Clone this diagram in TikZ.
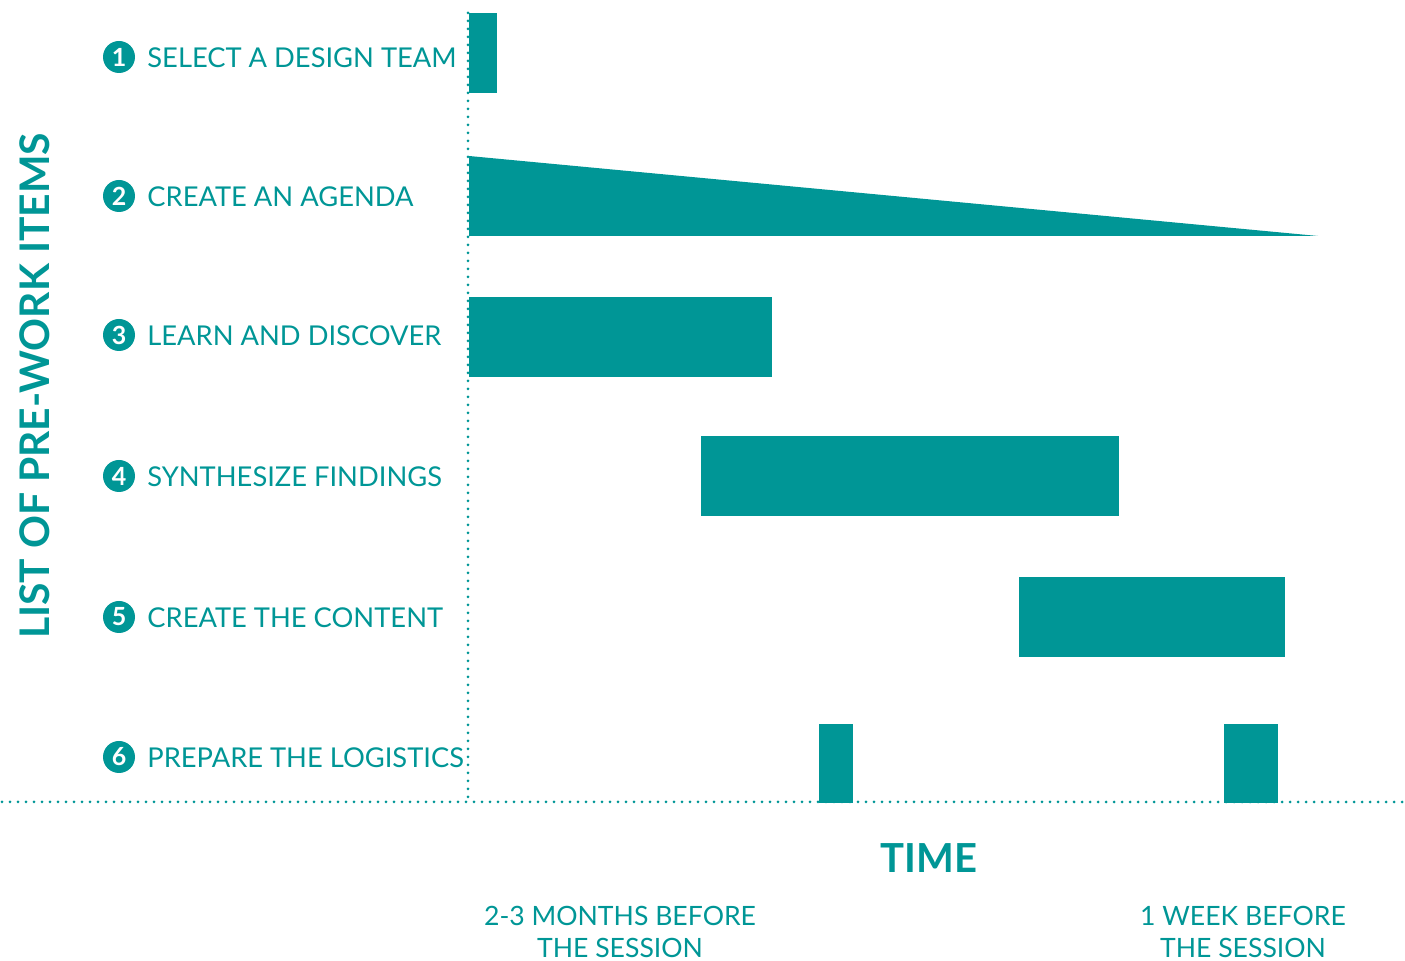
\documentclass[tikz,border=0pt]{standalone}
\usepackage{fontspec}
\setmainfont{Lato}
\definecolor{teal1}{RGB}{0,150,150}
\begin{document}
\begin{tikzpicture}[x=0.5pt,y=-0.5pt,
  bar/.style={fill=teal1,draw=none},
  dotline/.style={draw=teal1,line width=1.5pt,line cap=round,dash pattern=on 0pt off 4pt},
  num/.style={circle,fill=teal1,text=white,inner sep=0pt,minimum size=16pt,font=\fontsize{12.5}{12.5}\selectfont\bfseries},
  lab/.style={anchor=west,text=teal1,font=\fontsize{13.65}{13.65}\selectfont,inner sep=0pt},
  sub/.style={text=teal1,font=\fontsize{13.3}{16}\selectfont,align=center,inner sep=0pt}]
\useasboundingbox (0,0) rectangle (1405,961);
% axes
\coordinate (vtop) at (468,13);
\coordinate (orig) at (468,802);
\coordinate (hl) at (2,802);
\coordinate (hr) at (1405,802);
% bars
\fill[bar] (469,13) rectangle (497,93);
\fill[bar] (469,156) -- (469,236) -- (1318,236) -- cycle;
\fill[bar] (469,297) rectangle (772,377);
\fill[bar] (701,436) rectangle (1119,516);
\fill[bar] (1019,577) rectangle (1285,657);
\fill[bar] (819,724) rectangle (853,803);
\fill[bar] (1224,724) rectangle (1278,803);
\draw[dotline] (vtop) -- (orig);
\draw[dotline] (hl) -- (hr);
% items
\foreach \n/\y/\t in {1/57/SELECT A DESIGN TEAM,2/196/CREATE AN AGENDA,3/335/LEARN AND DISCOVER,4/476/SYNTHESIZE FINDINGS,5/617/CREATE THE CONTENT,6/757/PREPARE THE LOGISTICS}{
  \node[num] (n\n) at (119,\y) {\n};
  \node[lab] (l\n) at (147,\y+1) {\t};
}
\node[rotate=90,text=teal1,font=\fontsize{20.4}{20.4}\selectfont\bfseries,inner sep=0pt] (ytitle) at (35,386) {LIST OF PRE-WORK ITEMS};
\node[text=teal1,font=\fontsize{20}{20}\selectfont\bfseries,inner sep=0pt] (xtitle) at (929,858) {TIME};
\node[sub] (t1) at (620,932) {2-3 MONTHS BEFORE\\THE SESSION};
\node[sub] (t2) at (1243,932) {1 WEEK BEFORE\\THE SESSION};
\end{tikzpicture}
\end{document}
